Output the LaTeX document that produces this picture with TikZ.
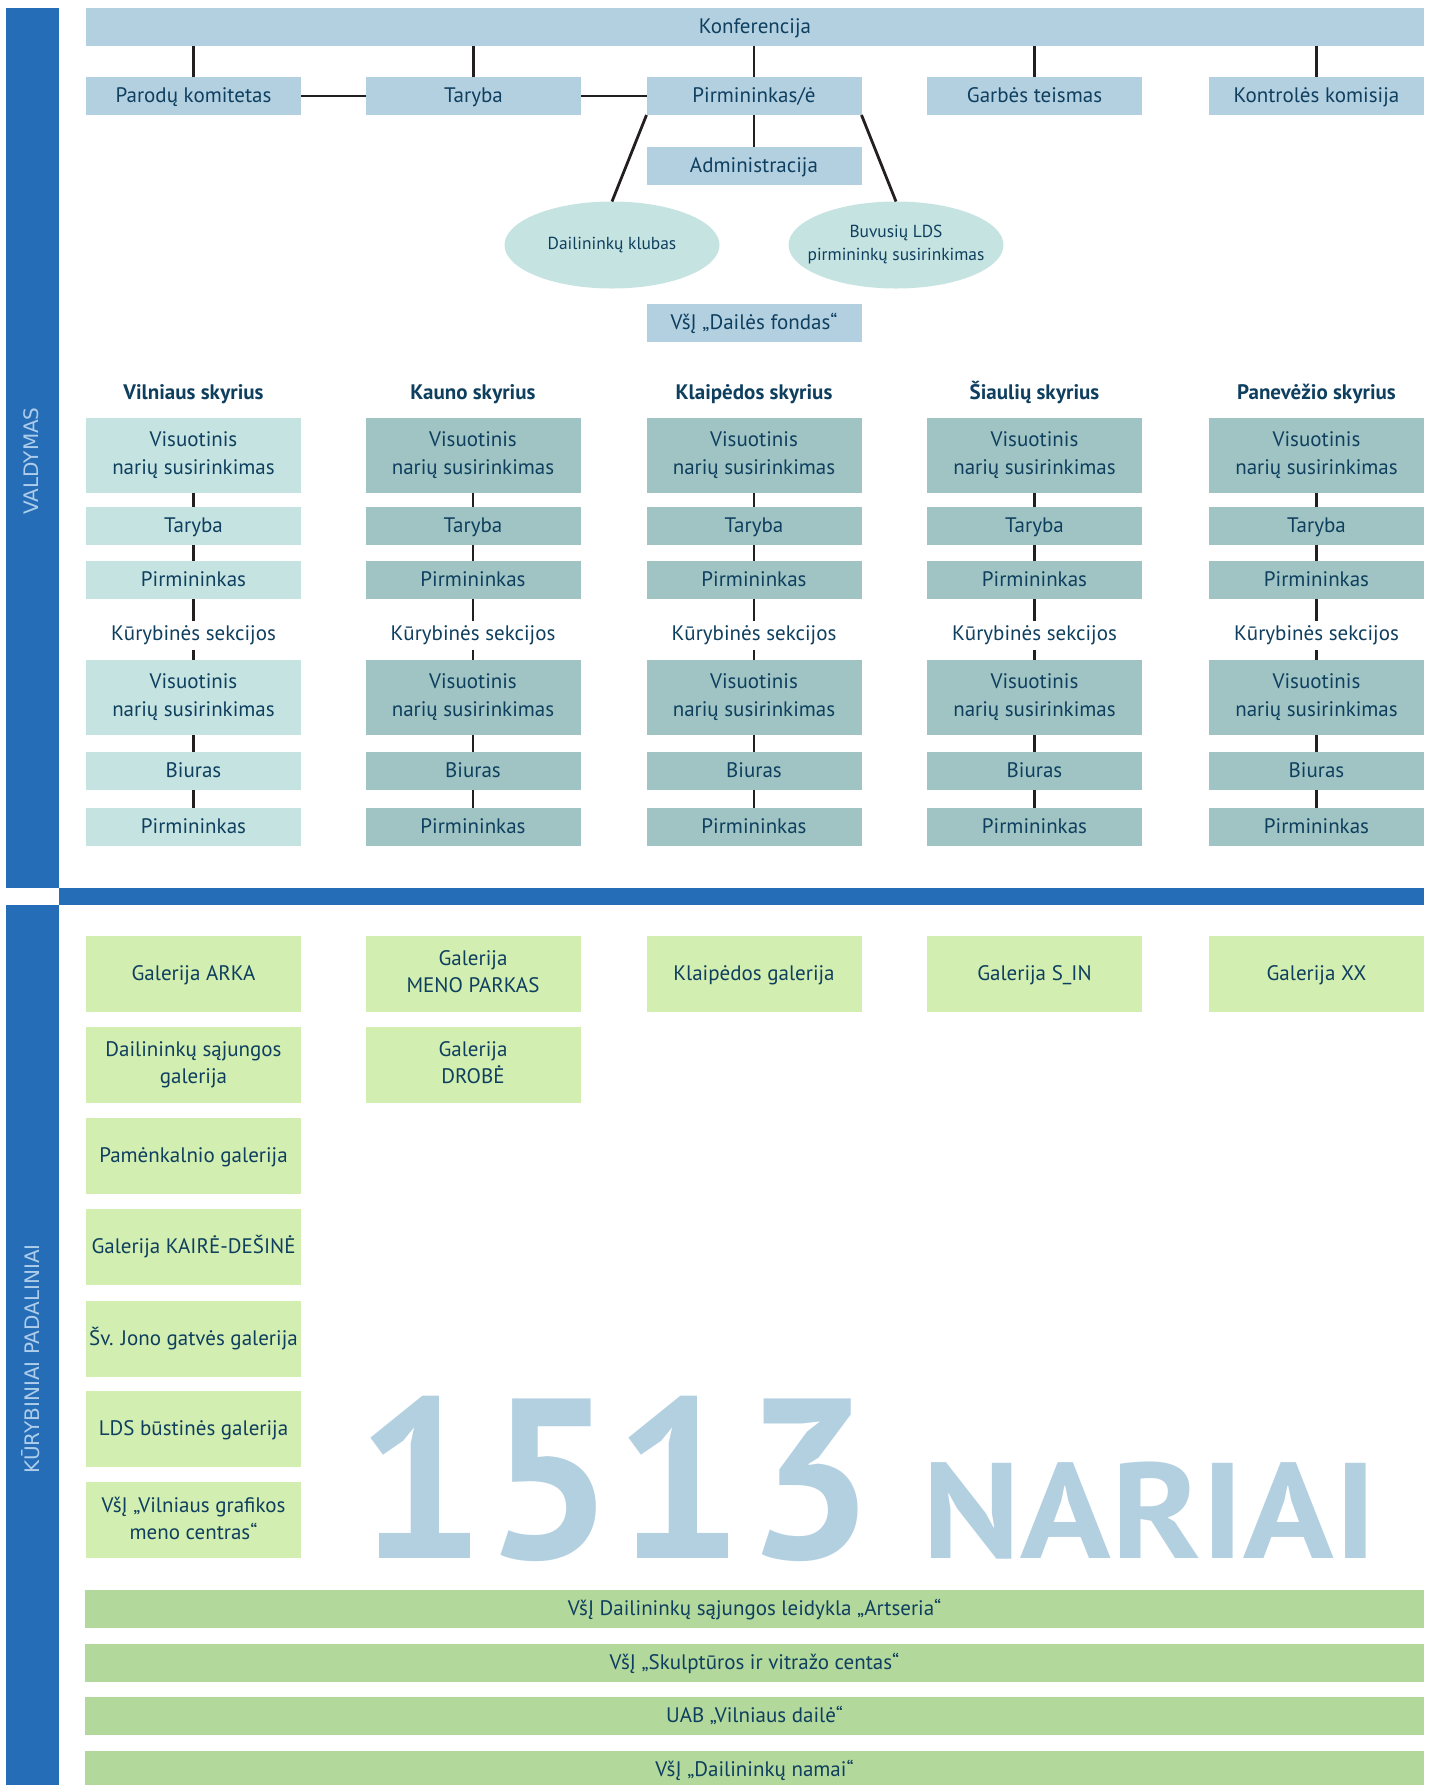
\documentclass[tikz,border=0pt]{standalone}
\usepackage{fontspec}
\setmainfont{PT Sans}
\newfontfamily\sidefont{DejaVu Sans}
\usetikzlibrary{shapes.geometric}
\definecolor{barblue}{HTML}{256DB7}
\definecolor{topc}{HTML}{B3D0E1}
\definecolor{vlight}{HTML}{C5E4E1}
\definecolor{vdark}{HTML}{9FC4C3}
\definecolor{galc}{HTML}{D2EEB0}
\definecolor{barg}{HTML}{B3D89C}
\definecolor{txt}{HTML}{0F3F5F}
\definecolor{sidec}{HTML}{ADCDEB}
\definecolor{lnc}{HTML}{231F20}
\tikzset{
  box/.style={inner sep=0pt, outer sep=0pt, align=center, text=txt,
    font=\fontsize{10.5}{14}\selectfont, minimum width=107.5pt, minimum height=19pt,
    execute at begin node={\vphantom{Ėų}}, execute at end node={\vphantom{ų}}},
  tallbox/.style={box, minimum height=37.5pt},
  topbox/.style={box, fill=topc},
  oval/.style={ellipse, fill=vlight, inner sep=0pt, outer sep=0pt, align=center, text=txt,
    font=\fontsize{8.7}{11.5}\selectfont, minimum width=107.5pt, minimum height=43.5pt},
  hdr/.style={inner sep=0pt, text=txt, font=\bfseries\fontsize{10.5}{13}\selectfont,
    execute at begin node={\vphantom{Šų}}},
  kur/.style={inner sep=0pt, outer sep=0pt, text=txt, font=\fontsize{10.5}{13}\selectfont, minimum height=14.5pt},
  galbox/.style={box, fill=galc, minimum height=38pt, font=\fontsize{10.5}{13.5}\selectfont},
  wbar/.style={box, fill=barg, minimum width=669.5pt, minimum height=19pt},
  ln/.style={line width=1.4pt, draw=lnc},
  sidelbl/.style={rotate=90, inner sep=0pt, text=sidec, font=\sidefont\fontsize{10}{12}\selectfont},
  bignum/.style={anchor=base west, inner sep=0pt, text=topc}
}
\begin{document}
\begin{tikzpicture}[x=0.5pt,y=-0.5pt]
\useasboundingbox (0,0) rectangle (1433,1785);
\fill[white] (0,0) rectangle (1433,1785);
% side bars
\fill[barblue] (5.5,8) rectangle (58.8,888);
\fill[barblue] (58.8,888) rectangle (1424,905);
\fill[barblue] (5.5,905) rectangle (58.8,1785);
\node[sidelbl] (valdymas) at (31,461) {VALDYMAS};
\node[sidelbl] (kurpad) at (31,1359) {KŪRYBINIAI PADALINIAI};

% top governance
\node[topbox, minimum width=669pt] (konf) at (755,27) {Konferencija};
\node[topbox] (paro) at (193.5,96) {Parodų komitetas};
\node[topbox] (tar) at (473.5,96) {Taryba};
\node[topbox] (pirm) at (754,96) {Pirmininkas/ė};
\node[topbox] (garb) at (1034.5,96) {Garbės teismas};
\node[topbox] (kontr) at (1316.5,96) {Kontrolės komisija};
\node[topbox] (admin) at (754,166) {Administracija};
\node[oval] (klub) at (612,245) {Dailininkų klubas};
\node[oval, inner xsep=-8.5pt] (buv) at (896,245) {Buvusių LDS\\pirmininkų susirinkimas};
\node[topbox] (fond) at (754,323) {VšĮ „Dailės fondas“};

\foreach \n in {paro,tar,pirm,garb,kontr}
  \draw[ln] (\n.north) -- (\n.north |- konf.south);
\draw[ln] (paro.east) -- (tar.west);
\draw[ln] (tar.east) -- (pirm.west);
\draw[ln] (pirm.south) -- (admin.north);
\draw[ln] (pirm.south west) -- (klub.north);
\draw[ln] (pirm.south east) -- (buv.north);

% branches
\foreach \i/\x/\nm/\col in {1/193.5/Vilniaus skyrius/vlight, 2/473/Kauno skyrius/vdark,
    3/754/Klaipėdos skyrius/vdark, 4/1034.5/Šiaulių skyrius/vdark, 5/1316.5/Panevėžio skyrius/vdark}{
  \node[hdr] (h\i) at (\x,393) {\nm};
  \node[tallbox, fill=\col] (va\i) at (\x,455.5) {Visuotinis\\narių susirinkimas};
  \node[box, fill=\col] (ta\i) at (\x,526) {Taryba};
  \node[box, fill=\col] (pa\i) at (\x,580) {Pirmininkas};
  \node[kur] (ks\i) at (\x,635.5) {Kūrybinės sekcijos};
  \node[tallbox, fill=\col] (vb\i) at (\x,697.5) {Visuotinis\\narių susirinkimas};
  \node[box, fill=\col] (bi\i) at (\x,771) {Biuras};
  \node[box, fill=\col] (pb\i) at (\x,827) {Pirmininkas};
  \draw[ln] (va\i.south) -- (ta\i.north);
  \draw[ln] (ta\i.south) -- (pa\i.north);
  \draw[ln] (pa\i.south) -- (ks\i.north);
  \draw[ln] (ks\i.south) -- (vb\i.north);
  \draw[ln] (vb\i.south) -- (bi\i.north);
  \draw[ln] (bi\i.south) -- (pb\i.north);
}

% galleries
\node[galbox] (g11) at (193.5,974) {Galerija ARKA};
\node[galbox] (g12) at (193.5,1065) {Dailininkų sąjungos\\galerija};
\node[galbox] (g13) at (193.5,1156) {Pamėnkalnio galerija};
\node[galbox] (g14) at (193.5,1247) {Galerija KAIRĖ-DEŠINĖ};
\node[galbox] (g15) at (193.5,1339) {Šv. Jono gatvės galerija};
\node[galbox] (g16) at (193.5,1429) {LDS būstinės galerija};
\node[galbox] (g17) at (193.5,1520) {VšĮ „Vilniaus grafikos\\meno centras“};
\node[galbox] (g21) at (473,974) {Galerija\\MENO PARKAS};
\node[galbox] (g22) at (473,1065) {Galerija\\DROBĖ};
\node[galbox] (g31) at (754,974) {Klaipėdos galerija};
\node[galbox] (g41) at (1034.5,974) {Galerija S\_IN};
\node[galbox] (g51) at (1316.5,974) {Galerija XX};

% big numbers
\node[bignum, font=\bfseries\fontsize{114}{114}\selectfont] (num) at (356,1558) {1513};
\node[bignum, font=\bfseries\fontsize{68}{68}\selectfont, xscale=1.1] (nar) at (922,1558) {NARIAI};

% full-width bars
\node[wbar] (b1) at (754.5,1609) {VšĮ Dailininkų sąjungos leidykla „Artseria“};
\node[wbar] (b2) at (754.5,1663) {VšĮ „Skulptūros ir vitražo centas“};
\node[wbar] (b3) at (754.5,1715.5) {UAB „Vilniaus dailė“};
\node[wbar] (b4) at (754.5,1770) {VšĮ „Dailininkų namai“};
\end{tikzpicture}
\end{document}
